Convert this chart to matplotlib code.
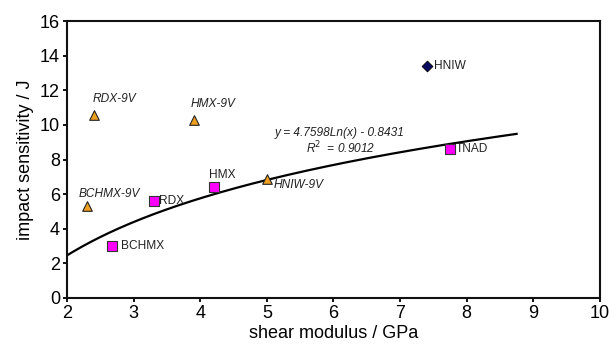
import numpy as np
import matplotlib
matplotlib.use("Agg")
import matplotlib.pyplot as plt
from matplotlib import font_manager

names = {f.name for f in font_manager.fontManager.ttflist}
narrow = 'Liberation Sans Narrow' if 'Liberation Sans Narrow' in names else 'Liberation Sans'

# data
sq_names = ['BCHMX', 'RDX', 'HMX', 'TNAD']
sq_x = [2.67, 3.3, 4.2, 7.75]
sq_y = [3.0, 5.6, 6.4, 8.6]

tri_names = ['RDX-9V', 'HMX-9V', 'BCHMX-9V', 'HNIW-9V']
tri_x = [2.4, 3.9, 2.3, 5.0]
tri_y = [10.6, 10.3, 5.3, 6.9]

dia_names = ['HNIW']
dia_x = [7.4]
dia_y = [13.4]

fit_a = 4.7598
fit_b = -0.8431
fit_xmin, fit_xmax = 2.0, 8.75

fig = plt.figure(figsize=(6.09, 3.46), dpi=100)
ax = fig.add_axes([0.110, 0.139, 0.875, 0.800])

xf = np.linspace(fit_xmin, fit_xmax, 200)
ax.plot(xf, fit_a * np.log(xf) + fit_b, color='black', lw=1.6, zorder=2)

ax.scatter(sq_x, sq_y, marker='s', s=52, color='#FF00FF', edgecolor='#333333', linewidth=0.8, zorder=3)
ax.scatter(tri_x, tri_y, marker='^', s=48, color='#F0A020', edgecolor='#222222', linewidth=0.8, zorder=3)
ax.scatter(dia_x, dia_y, marker='D', s=30, color='#0A0A60', edgecolor='#000000', linewidth=0.6, zorder=3)

lab_font = dict(family='Liberation Sans', fontsize=8.6, color='#222222')
# square labels (offsets in points)
sq_off = [(7, 0), (4, 0), (-3, 9), (4, 0)]
for n, x, y, (dx, dy) in zip(sq_names, sq_x, sq_y, sq_off):
    ax.annotate(n, (x, y), xytext=(dx, dy), textcoords='offset points', ha='left', va='center', **lab_font)
tri_off = [(-1, 11), (-2, 11), (-6, 9), (5, -5)]
for n, x, y, (dx, dy) in zip(tri_names, tri_x, tri_y, tri_off):
    ax.annotate(n, (x, y), xytext=(dx, dy), textcoords='offset points', ha='left', va='center', style='italic', **lab_font)
for n, x, y in zip(dia_names, dia_x, dia_y):
    ax.annotate(n, (x, y), xytext=(5, 0), textcoords='offset points', ha='left', va='center', **lab_font)

ax.text(5.12, 9.55, 'y = 4.7598Ln(x) - 0.8431', style='italic', ha='left', va='center', **lab_font)
ax.text(5.59, 8.65, r'R$^{2}$  = 0.9012', style='italic', ha='left', va='center', **lab_font)

ax.set_xlim(2, 10)
ax.set_ylim(0, 16)
ax.set_xticks(range(2, 11))
ax.set_yticks(range(0, 17, 2))
for sp in ax.spines.values():
    sp.set_linewidth(1.5)
    sp.set_color('#111111')
ax.tick_params(direction='out', length=3, width=1.3, labelsize=13, pad=2)
for lbl in ax.get_xticklabels() + ax.get_yticklabels():
    lbl.set_family(narrow)
ax.set_xlabel('shear modulus / GPa', family=narrow, fontsize=13, labelpad=2)
ax.set_ylabel('impact sensitivity / J', family=narrow, fontsize=13, labelpad=4)

fig.savefig('out.png', dpi=100)
